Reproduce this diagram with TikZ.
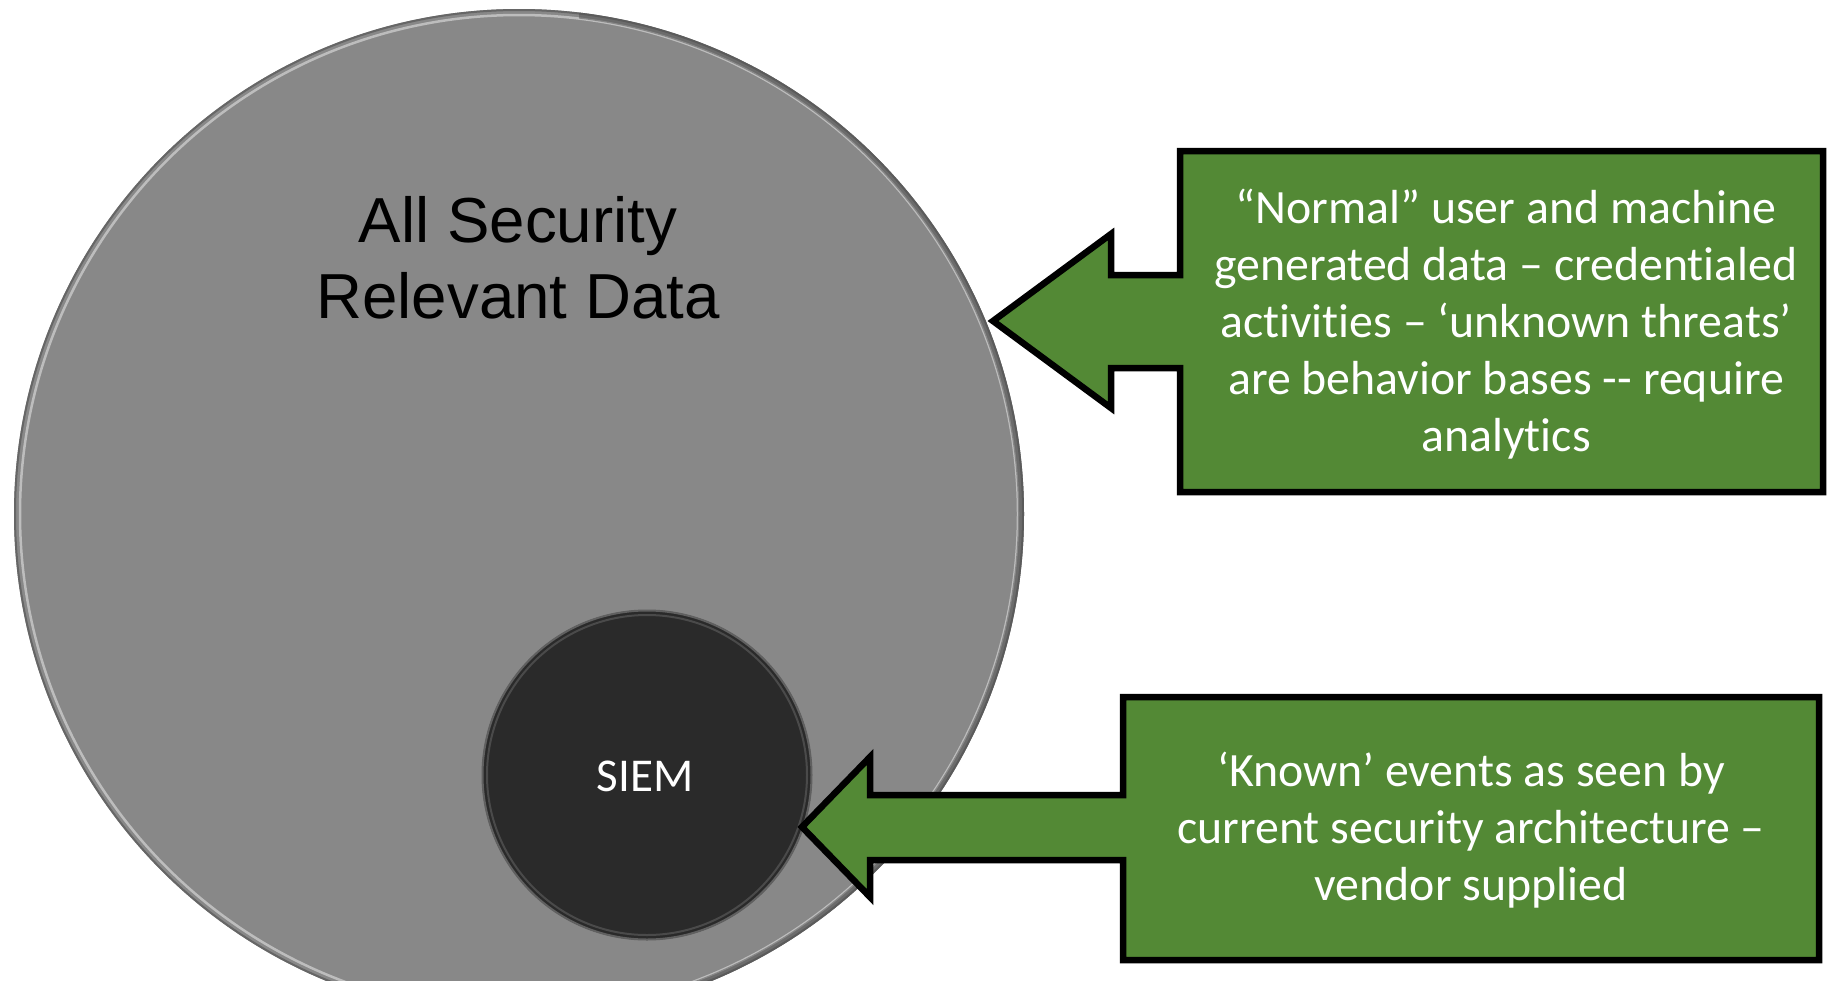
\documentclass[tikz,border=0pt]{standalone}
\usepackage{fontspec}
\setmainfont{Carlito}[Ligatures={TeX,NoCommon}]
\newfontfamily\arialfont{Liberation Sans}
\usepackage{xcolor}
\usepackage{tikz}
\usetikzlibrary{positioning}
\definecolor{discgray}{RGB}{136,136,136}
\definecolor{siemgray}{RGB}{42,42,42}
\definecolor{calloutgreen}{RGB}{83,137,53}

\begin{document}
\begin{tikzpicture}[
    callout/.style={fill=calloutgreen,draw=black,line width=0.065cm,line join=miter},
    boxtext/.style={text=white,align=center,inner sep=0pt,font=\fontsize{13.6pt}{16.2pt}\selectfont}]
    \clip (0,0) rectangle (18.29,9.80);
    \fill[white] (0,0) rectangle (18.29,9.80);
    \coordinate (bigc) at (5.19,4.66);
    \coordinate (siemc) at (6.47,2.05);
    \fill[discgray] (bigc) circle (5.05);
    \draw[discgray!75!black,line width=0.02cm] (bigc) circle (5.04);
    \draw[discgray!55!white,line width=0.025cm] (bigc) circle (4.99);
    \begin{scope}
        \clip (bigc) ++(0.6,-0.6) rectangle ++(6,-6) (bigc) ++(0.6,-0.6) rectangle ++(6,6);
        \draw[discgray!60!black,line width=0.06cm,opacity=0.5] (bigc) circle (5.02);
    \end{scope}
    \node[align=center,inner sep=0pt,font=\arialfont\fontsize{18.1pt}{21.6pt}\selectfont] (alldata) at (5.18,7.22) {All Security\\Relevant Data};
    \fill[siemgray] (siemc) circle (1.65);
    \draw[gray!75!black,line width=0.02cm] (siemc) circle (1.645);
    \draw[siemgray!85!white,line width=0.02cm] (siemc) circle (1.6);
    \node[text=white,anchor=base,inner sep=0pt,font=\fontsize{13.4pt}{16pt}\selectfont] (siem) at (6.45,1.89) {SIEM};
    \draw[callout] (9.93,6.59) -- (11.11,7.46) -- (11.11,7.05) -- (11.80,7.05) -- (11.80,8.29) -- (18.23,8.29)
        -- (18.23,4.88) -- (11.80,4.88) -- (11.80,6.12) -- (11.11,6.12) -- (11.11,5.72) -- cycle;
    \node[boxtext] (normal) at (15.06,6.56) {“Normal” user and machine\\generated data – credentialed\\activities – ‘unknown threats’\\are behavior bases -{}- require\\analytics};
    \draw[callout] (8.02,1.53) -- (8.70,2.23) -- (8.70,1.85) -- (11.23,1.85) -- (11.23,2.83) -- (18.19,2.83)
        -- (18.19,0.20) -- (11.23,0.20) -- (11.23,1.20) -- (8.70,1.20) -- (8.70,0.83) -- cycle;
    \node[boxtext] (known) at (14.71,1.50) {‘Known’ events as seen by\\current security architecture –\\vendor supplied};
\end{tikzpicture}
\end{document}
